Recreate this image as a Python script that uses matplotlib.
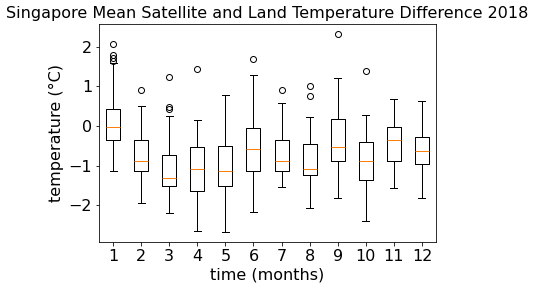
import matplotlib

matplotlib.use("Agg")
import matplotlib.pyplot as plt

months = list(range(1, 13))
whislo = [-1.14, -1.95, -2.20, -2.65, -2.68, -2.17, -1.54, -2.07, -1.80, -2.40, -1.57, -1.82]
q1 = [-0.35, -1.14, -1.51, -1.64, -1.51, -1.14, -1.14, -1.24, -0.89, -1.37, -0.89, -0.96]
med = [-0.03, -0.89, -1.32, -1.09, -1.14, -0.59, -0.89, -1.07, -0.54, -0.89, -0.34, -0.64]
q3 = [0.42, -0.36, -0.74, -0.54, -0.49, -0.06, -0.36, -0.46, 0.17, -0.39, -0.03, -0.28]
whishi = [1.58, 0.51, 0.26, 0.14, 0.79, 1.28, 0.57, 0.22, 1.20, 0.27, 0.67, 0.63]
fliers = [
    [2.06, 1.78, 1.72, 1.65],
    [0.92],
    [1.23, 0.49, 0.42],
    [1.43],
    [],
    [1.68],
    [0.92],
    [1.00, 0.75],
    [2.31],
    [1.38],
    [],
    [],
]

stats = []
for i in range(len(months)):
    stats.append({
        "whislo": whislo[i], "q1": q1[i], "med": med[i],
        "q3": q3[i], "whishi": whishi[i], "fliers": fliers[i],
    })

fig = plt.figure(figsize=(536 / 72, 290 / 72), dpi=72)
ax = fig.add_axes([99 / 536, 48 / 290, 337 / 536, 218 / 290])
ax.bxp(stats, positions=months)
ax.set_ylim(-2.92, 2.57)
ax.set_title("Singapore Mean Satellite and Land Temperature Difference 2018", fontsize=16)
ax.set_xlabel("time (months)", fontsize=16)
ax.set_ylabel("temperature (°C)", fontsize=16)
ax.tick_params(labelsize=16)

fig.savefig("out.png", dpi=72)
